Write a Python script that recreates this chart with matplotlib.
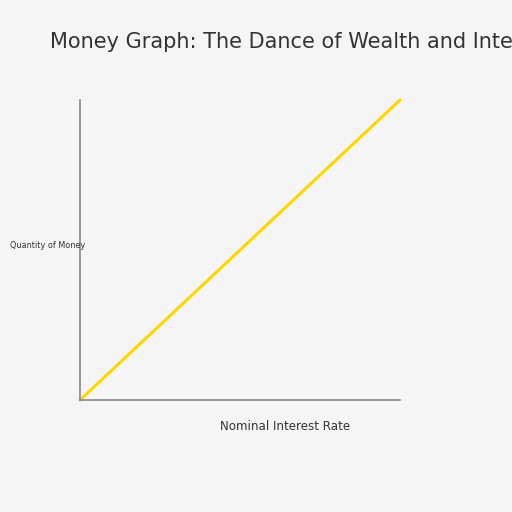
import matplotlib
matplotlib.use("Agg")
import matplotlib.pyplot as plt

rates = [0, 1]
money = [0, 1]

fig = plt.figure(figsize=(5.12, 5.12), dpi=100)
fig.patch.set_facecolor('#f5f5f5')
ax = fig.add_axes([80/512, 112/512, 320/512, 300/512])
ax.set_facecolor('#f5f5f5')
ax.plot(rates, money, color='#ffd700', linewidth=2.2, solid_capstyle='round', clip_on=False)
ax.set_xlim(0, 1)
ax.set_ylim(0, 1)
ax.set_xticks([]); ax.set_yticks([])
for s in ['top', 'right']:
    ax.spines[s].set_visible(False)
for s in ['left', 'bottom']:
    ax.spines[s].set_color('#888888')
    ax.spines[s].set_linewidth(1.2)
fig.text(50/512, 1 - 42/512, "Money Graph: The Dance of Wealth and Interest", fontsize=15,
         color='#333333', va='center', ha='left')
fig.text(285/512, 1 - 426/512, "Nominal Interest Rate", fontsize=8.6, color='#333333', ha='center', va='center')
fig.text(10/512, 1 - 246/512, "Quantity of Money", fontsize=6.5, color='#333333', ha='left', va='center',
         family=['Liberation Sans Narrow', 'DejaVu Sans'], fontstretch='condensed')
fig.savefig('out.png', dpi=100, facecolor=fig.get_facecolor())
